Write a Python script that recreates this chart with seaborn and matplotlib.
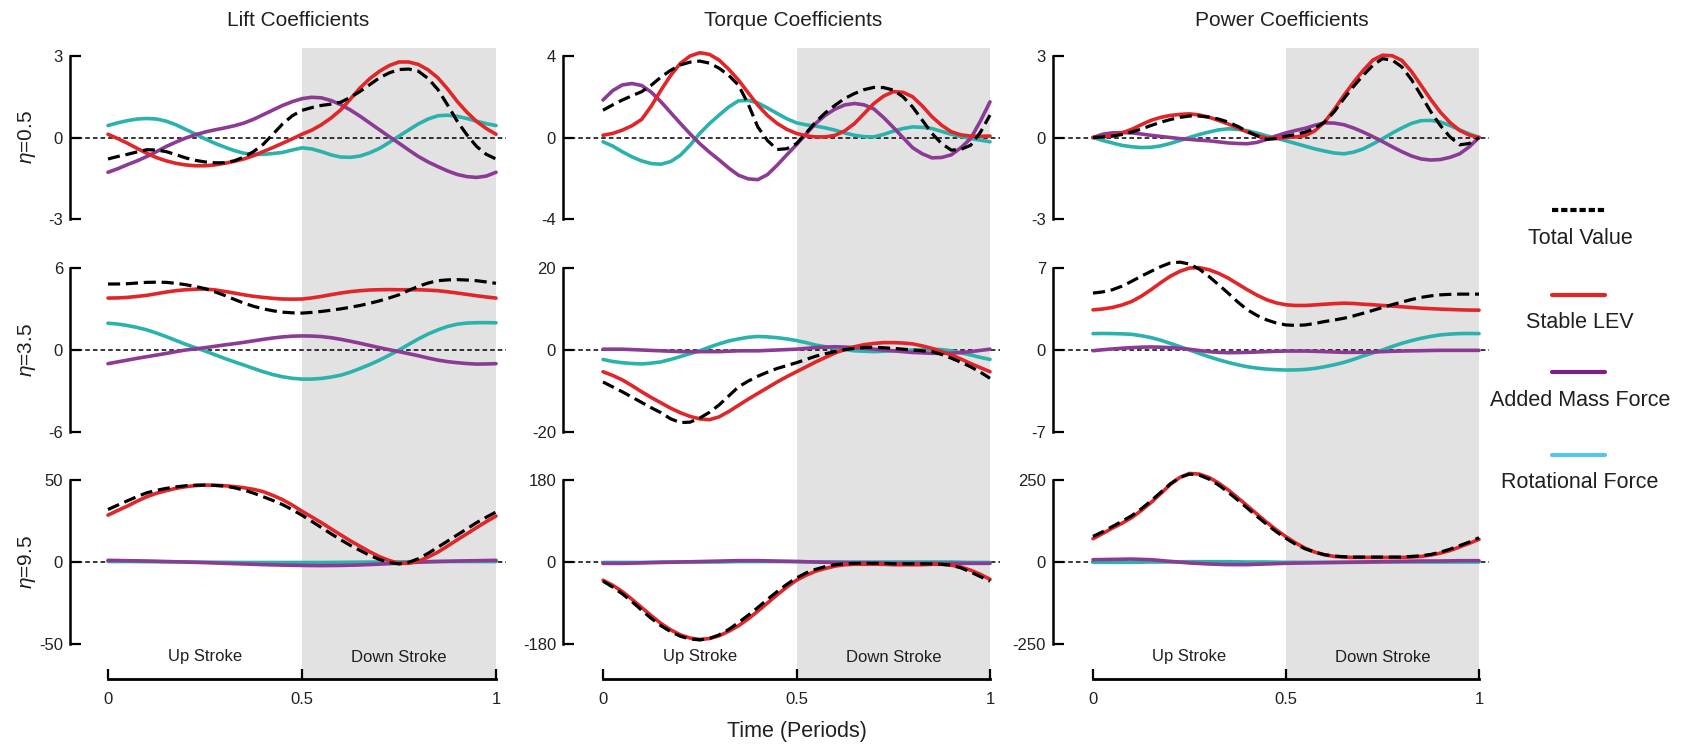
import matplotlib
matplotlib.use("Agg")
import matplotlib.pyplot as plt
import matplotlib.transforms as mtransforms
from matplotlib.lines import Line2D
import seaborn as sns

sns.set_theme(style="white")
plt.rcParams['font.family'] = ['Liberation Sans', 'DejaVu Sans']
plt.rcParams['mathtext.fontset'] = 'custom'
plt.rcParams['mathtext.it'] = 'Liberation Sans:italic'
plt.rcParams['mathtext.rm'] = 'Liberation Sans'

# ---------------------------------------------------------------- data
PERIOD = [0.000, 0.025, 0.050, 0.075, 0.100, 0.125, 0.150, 0.175, 0.200, 0.225,
          0.250, 0.275, 0.300, 0.325, 0.350, 0.375, 0.400, 0.425, 0.450, 0.475,
          0.500, 0.525, 0.550, 0.575, 0.600, 0.625, 0.650, 0.675, 0.700, 0.725,
          0.750, 0.775, 0.800, 0.825, 0.850, 0.875, 0.900, 0.925, 0.950, 0.975,
          1.000]

COLUMN_TITLES = ["Lift Coefficients", "Torque Coefficients", "Power Coefficients"]
ROW_LABELS = [r"$\eta$=0.5", r"$\eta$=3.5", r"$\eta$=9.5"]
SERIES_NAMES = ["Total Value", "Stable LEV", "Added Mass Force", "Rotational Force"]

# symmetric axis limits (rows x columns): ticks at -L, 0, L
LIMITS = [[3, 4, 3],
          [6, 20, 7],
          [50, 180, 250]]

# ---- Lift coefficients
lift_05_total = [-0.79, -0.70, -0.62, -0.53, -0.45, -0.46, -0.52, -0.63, -0.75, -0.84,
                 -0.90, -0.93, -0.93, -0.86, -0.72, -0.52, -0.25, 0.12, 0.50, 0.80,
                 1.00, 1.10, 1.18, 1.23, 1.30, 1.48, 1.70, 1.95, 2.20, 2.38,
                 2.50, 2.52, 2.44, 2.17, 1.77, 1.20, 0.60, 0.10, -0.33, -0.62, -0.79]
lift_05_lev = [0.12, -0.04, -0.21, -0.40, -0.58, -0.74, -0.86, -0.95, -1.01, -1.04,
               -1.04, -1.01, -0.95, -0.88, -0.79, -0.67, -0.52, -0.37, -0.21, -0.05,
               0.12, 0.27, 0.47, 0.72, 1.02, 1.42, 1.83, 2.17, 2.44, 2.65,
               2.78, 2.78, 2.69, 2.49, 2.20, 1.79, 1.33, 0.93, 0.59, 0.33, 0.12]
lift_05_added = [-1.28, -1.15, -1.00, -0.86, -0.70, -0.52, -0.33, -0.17, -0.02, 0.10,
                 0.20, 0.28, 0.35, 0.43, 0.53, 0.67, 0.84, 1.01, 1.18, 1.32,
                 1.43, 1.48, 1.46, 1.36, 1.21, 1.01, 0.78, 0.53, 0.28, 0.03,
                 -0.21, -0.46, -0.70, -0.90, -1.07, -1.23, -1.36, -1.44, -1.47, -1.42, -1.28]
lift_05_rot = [0.44, 0.54, 0.62, 0.68, 0.70, 0.68, 0.60, 0.47, 0.30, 0.13,
               -0.05, -0.21, -0.35, -0.48, -0.58, -0.62, -0.62, -0.59, -0.55, -0.46,
               -0.38, -0.42, -0.52, -0.64, -0.72, -0.73, -0.68, -0.56, -0.40, -0.18,
               0.05, 0.28, 0.50, 0.68, 0.80, 0.82, 0.78, 0.70, 0.60, 0.51, 0.44]

lift_35_total = [4.83, 4.83, 4.85, 4.90, 4.95, 4.96, 4.95, 4.88, 4.78, 4.65,
                 4.49, 4.26, 4.00, 3.71, 3.43, 3.20, 3.01, 2.87, 2.77, 2.72,
                 2.70, 2.75, 2.82, 2.91, 3.01, 3.13, 3.26, 3.42, 3.60, 3.81,
                 4.04, 4.36, 4.66, 4.90, 5.07, 5.13, 5.15, 5.12, 5.07, 4.98, 4.88]
lift_35_lev = [3.80, 3.81, 3.85, 3.92, 4.00, 4.12, 4.24, 4.34, 4.41, 4.45,
               4.46, 4.40, 4.29, 4.17, 4.04, 3.93, 3.85, 3.78, 3.73, 3.72,
               3.73, 3.81, 3.92, 4.05, 4.17, 4.27, 4.34, 4.39, 4.41, 4.42,
               4.41, 4.41, 4.41, 4.38, 4.34, 4.26, 4.17, 4.07, 3.97, 3.88, 3.80]
lift_35_added = [-1.00, -0.87, -0.74, -0.61, -0.49, -0.37, -0.25, -0.12, 0.00, 0.08,
                 0.17, 0.27, 0.37, 0.46, 0.56, 0.67, 0.78, 0.88, 0.96, 1.01,
                 1.03, 1.02, 0.98, 0.90, 0.78, 0.64, 0.49, 0.33, 0.17, 0.02,
                 -0.12, -0.27, -0.42, -0.59, -0.74, -0.85, -0.93, -0.99, -1.03, -1.02, -1.00]
lift_35_rot = [1.96, 1.90, 1.79, 1.65, 1.47, 1.24, 0.98, 0.70, 0.42, 0.17,
               -0.07, -0.34, -0.61, -0.86, -1.10, -1.35, -1.59, -1.80, -1.96, -2.07,
               -2.13, -2.13, -2.08, -1.98, -1.84, -1.62, -1.35, -1.06, -0.74, -0.38,
               0.00, 0.41, 0.81, 1.17, 1.47, 1.72, 1.89, 1.97, 2.00, 2.00, 1.99]

lift_95_total = [32.0, 34.7, 37.3, 39.9, 42.2, 43.7, 44.9, 45.8, 46.5, 46.8,
                 46.9, 46.7, 46.3, 45.3, 43.9, 42.0, 39.8, 37.5, 35.0, 31.9,
                 28.5, 24.8, 21.0, 17.2, 13.5, 10.1, 7.0, 4.0, 1.5, -0.3,
                 -1.2, -0.2, 2.0, 5.3, 9.0, 12.7, 16.5, 20.2, 24.0, 27.3, 30.5]
lift_95_lev = [28.6, 31.4, 34.1, 37.1, 39.8, 41.9, 43.5, 44.9, 45.9, 46.6,
               46.9, 46.8, 46.5, 46.0, 45.3, 44.3, 42.9, 40.6, 38.0, 34.7,
               31.0, 27.5, 24.0, 20.2, 16.5, 12.9, 9.5, 6.2, 3.2, 0.9,
               -0.8, -0.8, 0.5, 3.0, 6.0, 9.7, 13.5, 17.2, 21.0, 24.6, 28.0]
lift_95_added = [1.0, 0.9, 0.8, 0.7, 0.6, 0.45, 0.3, 0.15, 0.0, -0.2,
                 -0.4, -0.6, -0.8, -1.0, -1.2, -1.4, -1.6, -1.75, -1.9, -2.0,
                 -2.1, -2.15, -2.2, -2.15, -2.1, -1.95, -1.8, -1.55, -1.3, -1.0,
                 -0.7, -0.4, -0.1, 0.1, 0.3, 0.45, 0.6, 0.7, 0.8, 0.9, 1.0]
lift_95_rot = [0.3, 0.3, 0.3, 0.25, 0.2, 0.15, 0.1, 0.05, 0.0, -0.05,
               -0.1, -0.15, -0.2, -0.25, -0.3, -0.3, -0.3, -0.3, -0.3, -0.3,
               -0.3, -0.3, -0.3, -0.25, -0.2, -0.15, -0.1, -0.05, 0.0, 0.05,
               0.1, 0.15, 0.2, 0.25, 0.3, 0.3, 0.3, 0.3, 0.3, 0.3, 0.3]

# ---- Torque coefficients
torque_05_total = [1.34, 1.60, 1.84, 2.05, 2.25, 2.57, 2.97, 3.30, 3.56, 3.70,
                   3.75, 3.65, 3.40, 3.05, 2.57, 1.65, 0.52, -0.15, -0.59, -0.55,
                   -0.30, 0.22, 0.77, 1.22, 1.59, 1.92, 2.16, 2.35, 2.46, 2.45,
                   2.33, 2.00, 1.50, 0.85, 0.20, -0.30, -0.62, -0.58, -0.38, 0.25, 1.10]
torque_05_lev = [0.11, 0.20, 0.36, 0.58, 0.89, 1.55, 2.33, 3.05, 3.64, 4.00,
                 4.16, 4.08, 3.80, 3.35, 2.82, 2.20, 1.59, 1.08, 0.69, 0.40,
                 0.20, 0.08, 0.03, 0.03, 0.11, 0.33, 0.69, 1.18, 1.67, 2.03,
                 2.25, 2.22, 2.00, 1.55, 1.02, 0.60, 0.28, 0.13, 0.07, 0.06, 0.07]
torque_05_added = [1.84, 2.30, 2.58, 2.65, 2.55, 2.22, 1.75, 1.22, 0.69, 0.18,
                   -0.30, -0.72, -1.10, -1.50, -1.85, -2.03, -2.07, -1.82, -1.36, -0.85,
                   -0.35, 0.18, 0.70, 1.10, 1.40, 1.60, 1.67, 1.60, 1.40, 0.98,
                   0.50, 0.00, -0.50, -0.80, -1.00, -0.98, -0.85, -0.50, -0.05, 0.80, 1.75]
torque_05_rot = [-0.21, -0.42, -0.70, -0.95, -1.15, -1.28, -1.31, -1.18, -0.87, -0.38,
                 0.20, 0.68, 1.10, 1.50, 1.80, 1.82, 1.70, 1.45, 1.18, 0.92,
                 0.72, 0.62, 0.56, 0.47, 0.36, 0.22, 0.11, 0.04, 0.03, 0.15,
                 0.31, 0.44, 0.52, 0.50, 0.44, 0.30, 0.16, 0.05, -0.05, -0.13, -0.21]

torque_35_total = [-7.8, -9.0, -10.2, -11.5, -12.8, -14.1, -15.3, -16.8, -17.7, -17.6,
                   -16.6, -15.2, -13.4, -11.2, -9.0, -7.6, -6.4, -5.4, -4.5, -3.8,
                   -3.1, -2.3, -1.5, -0.9, -0.4, 0.1, 0.4, 0.6, 0.65, 0.55,
                   0.4, 0.2, 0.0, -0.2, -0.4, -1.1, -2.0, -3.0, -4.1, -5.4, -6.9]
torque_35_lev = [-5.3, -6.2, -7.3, -8.7, -10.2, -11.6, -12.9, -14.2, -15.3, -16.2,
                 -16.8, -17.0, -16.3, -15.0, -13.5, -12.0, -10.6, -9.2, -7.8, -6.5,
                 -5.3, -4.1, -2.9, -1.8, -0.7, 0.1, 0.8, 1.3, 1.6, 1.8,
                 1.8, 1.7, 1.5, 1.0, 0.4, -0.4, -1.2, -2.2, -3.3, -4.3, -5.3]
torque_35_added = [0.2, 0.2, 0.2, 0.1, 0.0, -0.1, -0.2, -0.3, -0.4, -0.4,
                   -0.4, -0.4, -0.4, -0.3, -0.2, -0.2, -0.2, -0.1, 0.0, 0.1,
                   0.2, 0.4, 0.6, 0.7, 0.8, 0.7, 0.6, 0.4, 0.2, 0.0,
                   -0.2, -0.4, -0.6, -0.7, -0.8, -0.8, -0.8, -0.6, -0.4, -0.1, 0.2]
torque_35_rot = [-2.3, -2.8, -3.1, -3.3, -3.4, -3.2, -2.9, -2.3, -1.6, -0.9,
                 -0.2, 0.7, 1.5, 2.2, 2.7, 3.1, 3.3, 3.2, 3.0, 2.7,
                 2.3, 1.8, 1.2, 0.8, 0.4, 0.1, -0.2, -0.3, -0.4, -0.3,
                 -0.2, -0.1, 0.0, 0.1, 0.2, 0.1, -0.2, -0.7, -1.2, -1.8, -2.3]

torque_95_total = [-42, -55, -70, -87, -106, -124, -140, -153, -163, -169,
                   -171, -168, -160, -148, -133, -117, -100, -82, -65, -49,
                   -35, -24, -16, -10, -6, -4, -3, -3, -3, -3,
                   -4, -4, -4, -4, -4, -5, -7, -13, -22, -32, -42]
torque_95_lev = [-40, -51, -65, -82, -100, -118, -135, -149, -160, -167,
                 -170, -168, -162, -152, -140, -125, -108, -90, -72, -55,
                 -40, -29, -20, -14, -9, -6, -5, -5, -5, -5,
                 -6, -6, -6, -6, -5, -5, -7, -11, -18, -27, -38]
torque_95_added = [-3, -3, -3, -2.5, -2, -1.5, -1, -0.5, 0, 0.5,
                   1, 1.5, 2, 2.5, 3, 3, 3, 2.5, 2, 1.5,
                   1, 0.5, 0, -0.5, -1, -1.5, -2, -2, -2, -2.5,
                   -3, -3, -3, -3, -3, -3, -3, -3, -3, -3, -3]
torque_95_rot = [-1, -1, -1, -1, -1, -0.5, 0, 0, 0, 0,
                 0, 0, 0, 0.5, 1, 1, 1, 1, 1, 1,
                 1, 0.5, 0, 0, 0, 0, 0, 0, 0, 0,
                 0, 0, 0, 0, 0, 0, 0, -0.5, -1, -1, -1]

# ---- Power coefficients
power_05_total = [0.00, 0.02, 0.05, 0.11, 0.20, 0.31, 0.44, 0.56, 0.66, 0.74,
                  0.79, 0.79, 0.75, 0.68, 0.57, 0.41, 0.22, 0.06, -0.07, -0.04,
                  0.05, 0.11, 0.20, 0.34, 0.57, 0.95, 1.43, 1.88, 2.29, 2.66,
                  2.90, 2.85, 2.60, 2.13, 1.55, 0.95, 0.44, 0.02, -0.27, -0.22, 0.00]
power_05_lev = [0.00, 0.02, 0.07, 0.17, 0.30, 0.47, 0.63, 0.74, 0.81, 0.85,
                0.87, 0.83, 0.75, 0.63, 0.50, 0.35, 0.20, 0.08, -0.02, -0.03,
                0.00, 0.02, 0.07, 0.25, 0.57, 1.03, 1.55, 2.03, 2.47, 2.85,
                3.03, 3.01, 2.84, 2.43, 1.92, 1.40, 0.93, 0.55, 0.26, 0.09, 0.00]
power_05_added = [0.00, 0.12, 0.17, 0.18, 0.17, 0.13, 0.08, 0.04, 0.00, -0.04,
                  -0.07, -0.10, -0.12, -0.16, -0.20, -0.22, -0.23, -0.18, -0.07, 0.06,
                  0.17, 0.26, 0.34, 0.45, 0.54, 0.53, 0.47, 0.35, 0.20, 0.03,
                  -0.15, -0.34, -0.52, -0.68, -0.79, -0.83, -0.81, -0.73, -0.60, -0.34, 0.00]
power_05_rot = [0.00, -0.11, -0.20, -0.29, -0.34, -0.37, -0.36, -0.31, -0.22, -0.11,
                0.00, 0.11, 0.20, 0.28, 0.32, 0.30, 0.25, 0.16, 0.06, -0.03,
                -0.12, -0.22, -0.32, -0.42, -0.50, -0.57, -0.60, -0.54, -0.42, -0.24,
                -0.05, 0.16, 0.35, 0.52, 0.62, 0.63, 0.57, 0.44, 0.28, 0.13, 0.00]

power_35_total = [4.86, 4.96, 5.14, 5.45, 5.86, 6.30, 6.71, 7.11, 7.43, 7.50,
                  7.34, 6.91, 6.29, 5.58, 4.86, 4.10, 3.43, 2.95, 2.57, 2.30,
                  2.14, 2.10, 2.14, 2.27, 2.43, 2.56, 2.71, 2.91, 3.14, 3.38,
                  3.63, 3.87, 4.09, 4.31, 4.49, 4.62, 4.71, 4.75, 4.77, 4.77, 4.77]
power_35_lev = [3.43, 3.50, 3.63, 3.84, 4.14, 4.59, 5.14, 5.74, 6.29, 6.72,
                7.00, 7.03, 6.86, 6.55, 6.14, 5.64, 5.14, 4.68, 4.29, 4.02,
                3.86, 3.80, 3.80, 3.85, 3.91, 3.96, 4.00, 3.97, 3.91, 3.86,
                3.80, 3.75, 3.69, 3.63, 3.57, 3.53, 3.49, 3.46, 3.43, 3.41, 3.40]
power_35_added = [-0.06, 0.02, 0.09, 0.15, 0.20, 0.24, 0.26, 0.24, 0.20, 0.14,
                  0.06, -0.04, -0.14, -0.20, -0.23, -0.22, -0.20, -0.17, -0.14, -0.11,
                  -0.09, -0.09, -0.09, -0.11, -0.14, -0.17, -0.20, -0.20, -0.20, -0.17,
                  -0.14, -0.11, -0.09, -0.07, -0.06, -0.04, -0.03, -0.03, -0.03, -0.03, -0.03]
power_35_rot = [1.40, 1.41, 1.40, 1.38, 1.34, 1.22, 1.06, 0.84, 0.57, 0.29,
                0.00, -0.29, -0.57, -0.83, -1.06, -1.26, -1.43, -1.55, -1.63, -1.68,
                -1.71, -1.70, -1.66, -1.57, -1.43, -1.26, -1.06, -0.80, -0.51, -0.25,
                0.00, 0.30, 0.57, 0.80, 1.00, 1.16, 1.29, 1.36, 1.40, 1.41, 1.40]

power_95_total = [78, 92, 108, 124, 141, 162, 186, 212, 238, 258,
                  268, 265, 253, 235, 213, 189, 164, 139, 115, 92,
                  72, 54, 40, 30, 22, 18, 16, 15, 15, 15,
                  15, 15, 15, 17, 19, 23, 30, 39, 50, 61, 74]
power_95_lev = [71, 87, 103, 118, 135, 157, 181, 208, 236, 258,
                270, 268, 258, 241, 220, 196, 171, 146, 121, 98,
                77, 58, 42, 30, 22, 17, 15, 14, 14, 14,
                14, 14, 14, 15, 17, 21, 27, 35, 46, 57, 69]
power_95_added = [7, 7.5, 8, 8.5, 9, 8, 7, 4.5, 2, -0.5,
                  -3, -4.5, -6, -7, -8, -8, -8, -7, -6, -5,
                  -4, -3.5, -3, -2.5, -2, -1.5, -1, -0.5, 0, 0.5,
                  1, 1.5, 2, 2.5, 3, 3, 3, 3.5, 4, 4, 4]
power_95_rot = [-1, -1, -1, -1, -1, -0.5, 0, 0, 0, 0.5,
                1, 1, 1, 1, 1, 0.5, 0, 0, 0, -0.5,
                -1, -1, -1, -1, -1, -1, -1, -1, -1, -0.5,
                0, 0, 0, 0, 0, 0, 0, 0, 0, 0, 0]

PANELS = [
    [(lift_05_total, lift_05_lev, lift_05_added, lift_05_rot),
     (torque_05_total, torque_05_lev, torque_05_added, torque_05_rot),
     (power_05_total, power_05_lev, power_05_added, power_05_rot)],
    [(lift_35_total, lift_35_lev, lift_35_added, lift_35_rot),
     (torque_35_total, torque_35_lev, torque_35_added, torque_35_rot),
     (power_35_total, power_35_lev, power_35_added, power_35_rot)],
    [(lift_95_total, lift_95_lev, lift_95_added, lift_95_rot),
     (torque_95_total, torque_95_lev, torque_95_added, torque_95_rot),
     (power_95_total, power_95_lev, power_95_added, power_95_rot)],
]

# ---------------------------------------------------------------- style
TEXT = "#231f20"
SHADE = "#e2e2e2"
C_TOTAL = "black"
C_LEV = "#e1262a"
C_ADDED = "#8c3b95"
C_ROT = "#2bb2ad"
LEGEND_COLORS = ["black", "#e1262a", "#7d2086", "#58c3ef"]
LW = 2.6
TOTAL_STYLE = (0, (3.8, 1.8))

W, H = 1684, 746
fig = plt.figure(figsize=(W / 100, H / 100), dpi=100)
fig.patch.set_facecolor("white")

# layout in pixels: (spine, t=0, t=1, right end) per column; (top, bottom) per row
COLS = [(70, 108, 496, 506), (563, 603, 990, 1000), (1053, 1093, 1479, 1489)]
ROWS = [(56, 219), (268, 432), (480, 644)]
SHADE_TOP, XAXIS_Y = 48, 679


def xlims(col):
    spine, x0, x1, right = col
    return (spine - x0) / (x1 - x0), (right - x0) / (x1 - x0)


for ci, col in enumerate(COLS):
    spine, x0, x1, right = col
    lo, hi = xlims(col)

    # background axis carrying the down-stroke shading and the time axis
    bg = fig.add_axes([spine / W, 1 - XAXIS_Y / H, (right - spine) / W,
                       (XAXIS_Y - SHADE_TOP) / H])
    bg.set_facecolor("none")
    bg.set_xlim(lo, hi)
    bg.set_ylim(0, 1)
    bg.axvspan(0.5, 1.0, color=SHADE, lw=0, zorder=0)
    for s in ("left", "right", "top"):
        bg.spines[s].set_visible(False)
    bg.spines["bottom"].set_bounds(0, 1)
    bg.spines["bottom"].set_color("black")
    bg.spines["bottom"].set_linewidth(2.0)
    bg.set_yticks([])
    bg.set_xticks([0, 0.5, 1])
    bg.set_xticklabels(["0", "0.5", "1"])
    bg.tick_params(axis="x", direction="in", length=7, width=1.6, color="black",
                   labelsize=12, pad=9, labelcolor=TEXT, bottom=True)
    ty = (XAXIS_Y - 657) / (XAXIS_Y - SHADE_TOP)
    trans = mtransforms.blended_transform_factory(bg.transData, bg.transAxes)
    bg.text(0.25, ty, "Up Stroke", transform=trans, ha="center", va="center",
            fontsize=12, color=TEXT)
    bg.text(0.75, ty, "Down Stroke", transform=trans, ha="center", va="center",
            fontsize=12, color=TEXT)

    # column title
    fig.text((x0 + 0.49 * (x1 - x0)) / W, 1 - 20 / H, COLUMN_TITLES[ci],
             ha="center", va="center", fontsize=15, color=TEXT)

    for ri, (top, bottom) in enumerate(ROWS):
        ax = fig.add_axes([spine / W, 1 - bottom / H, (right - spine) / W,
                           (bottom - top) / H])
        ax.set_facecolor("none")
        L = LIMITS[ri][ci]
        total, lev, added, rot = PANELS[ri][ci]

        ax.axhline(0, color="black", lw=1.1, ls=(0, (3, 2)), zorder=1)
        sns.lineplot(x=PERIOD, y=rot, ax=ax, color=C_ROT, lw=LW,
                     clip_on=False, zorder=2)
        sns.lineplot(x=PERIOD, y=added, ax=ax, color=C_ADDED, lw=LW,
                     clip_on=False, zorder=3)
        sns.lineplot(x=PERIOD, y=lev, ax=ax, color=C_LEV, lw=LW,
                     clip_on=False, zorder=4)
        sns.lineplot(x=PERIOD, y=total, ax=ax, color=C_TOTAL, lw=2.3,
                     linestyle=TOTAL_STYLE, clip_on=False, zorder=5)

        ax.set_xlim(lo, hi)
        ax.set_ylim(-L, L)
        ax.set_xticks([])
        ax.set_yticks([-L, 0, L])
        ax.set_yticklabels([str(-L), "0", str(L)])
        ax.set_xlabel("")
        ax.set_ylabel("")
        for s in ("bottom", "right", "top"):
            ax.spines[s].set_visible(False)
        ax.spines["left"].set_bounds(-L, L)
        ax.spines["left"].set_color("black")
        ax.spines["left"].set_linewidth(1.8)
        ax.tick_params(axis="y", direction="in", length=8, width=1.6,
                       color="black", labelsize=12, pad=5, labelcolor=TEXT,
                       left=True)

        if ci == 0:
            fig.text(27 / W, 1 - (top + bottom) / 2 / H, ROW_LABELS[ri],
                     rotation=90, ha="center", va="center", fontsize=15,
                     color=TEXT)

# shared time label under the middle column
fig.text((COLS[1][1] + 0.5 * (COLS[1][2] - COLS[1][1])) / W, 1 - 732 / H,
         "Time (Periods)", ha="center", va="center", fontsize=15.5, color=TEXT)

# legend: sample line with its name centred underneath
LEG_LINE_Y = [210, 295, 372, 455]
LEG_TEXT_Y = [238, 322, 400, 482]
for name, color, ly, tyy in zip(SERIES_NAMES, LEGEND_COLORS, LEG_LINE_Y, LEG_TEXT_Y):
    style = (0, (1.5, 0.7)) if name == "Total Value" else "-"
    fig.add_artist(Line2D([1552 / W, 1605 / W], [1 - ly / H, 1 - ly / H],
                          color=color, lw=3.0, ls=style,
                          transform=fig.transFigure))
    fig.text(1580 / W, 1 - tyy / H, name, ha="center", va="center",
             fontsize=15.5, color=TEXT)

fig.savefig("out.png", dpi=100, facecolor="white")
